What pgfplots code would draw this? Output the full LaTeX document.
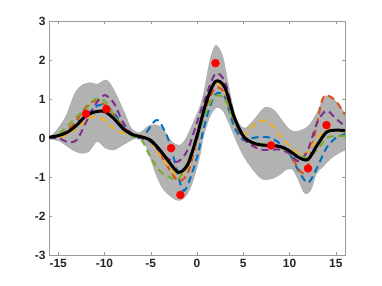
\documentclass[border=0pt]{standalone}
\usepackage{fontspec}
\setmainfont{Liberation Sans}
\usepackage{pgfplots}
\pgfplotsset{compat=1.18}
\usepgfplotslibrary{fillbetween}

\definecolor{bandgray}{rgb}{0.70,0.70,0.70}
\definecolor{mblue}{rgb}{0,0.447,0.741}
\definecolor{morange}{rgb}{0.85,0.325,0.098}
\definecolor{myellow}{rgb}{0.929,0.694,0.125}
\definecolor{mpurple}{rgb}{0.494,0.184,0.556}
\definecolor{mgreen}{rgb}{0.466,0.674,0.188}

\begin{document}
\begin{tikzpicture}
\path (0,0) rectangle (382bp,286bp);
\begin{axis}[
    at={(49bp,31bp)}, anchor=south west,
    scale only axis,
    width=296bp, height=234bp,
    xmin=-16, xmax=16, ymin=-3, ymax=3,
    xtick={-15,-10,...,15}, ytick={-3,-2,...,3},
    tick align=inside,
    major tick length=3bp,
    axis line style={black!40},
    every tick/.style={black!40},
    /pgf/number format/assume math mode=true,
    tick label style={font=\fontsize{12}{14}\selectfont\bfseries, text=black!85},
    xticklabel style={yshift=-1bp},
    sample/.style={line width=2pt, dash pattern=on 7pt off 4.5pt, smooth},
]
% confidence band
\addplot[name path=up, draw=black!35, line width=0.3pt, smooth] coordinates {
(-16,0.03) (-15.3,0.16) (-14.2,0.55) (-13.2,1.15) (-12.4,1.36) (-11.5,1.42)
(-10.8,1.38) (-9.9,1.49) (-9.4,1.40) (-8.7,1.10) (-7.8,0.63) (-7.1,0.25)
(-6.2,0.14) (-5.1,0.33) (-4.1,0.31) (-3.4,0.14) (-2.9,-0.05) (-2.3,-0.16)
(-1.8,-0.18) (-1.3,-0.05) (-0.6,0.29) (0.3,0.8) (0.8,1.25) (1.4,2.0)
(2.05,2.38) (2.8,2.08) (3.5,1.23) (4.1,0.6) (4.6,0.35) (5.2,0.25)
(6.1,0.45) (7.3,0.78) (8.3,0.72) (9.2,0.45) (10.0,0.22) (10.8,0.17)
(12.0,0.3) (12.9,0.62) (13.8,1.06) (14.6,1.03) (15.5,0.8) (16,0.63)};
\addplot[name path=lo, draw=black!35, line width=0.3pt, smooth] coordinates {
(-16,-0.03) (-15,-0.07) (-14.4,-0.15) (-13.5,-0.3) (-12.6,-0.39) (-11.7,-0.35)
(-10.8,-0.09) (-9.9,-0.26) (-9.0,-0.31) (-8.0,-0.18) (-6.6,0.0) (-5.8,-0.06)
(-5.1,-0.48) (-4.35,-0.99) (-3.6,-1.33) (-2.55,-1.55) (-1.85,-1.6) (-1.1,-1.46)
(-0.4,-1.08) (0.3,-0.48) (0.7,0.03) (1.4,0.55) (2.1,0.78) (2.8,0.7)
(3.5,0.35) (4.2,-0.05) (5.0,-0.45) (6.0,-0.8) (7.0,-1.05) (8.0,-1.05)
(8.9,-0.95) (9.6,-0.82) (10.3,-0.8) (10.9,-1.05) (11.5,-1.38) (11.9,-1.43)
(12.4,-1.29) (12.9,-0.92) (13.6,-0.74) (14.7,-0.48) (16,-0.31)};
\addplot[bandgray] fill between[of=up and lo];
% posterior samples
\addplot[mblue, sample] coordinates {
(-16,0.0) (-15,0.05) (-14,0.2) (-13,0.4) (-12,0.55) (-11,0.8) (-10,0.85) (-9,0.65)
(-8,0.3) (-7,0.05) (-6,0.0) (-5,0.3) (-4.5,0.45) (-4,0.4) (-3,-0.1) (-2,-1.0)
(-1.5,-1.35) (-1,-1.2) (0,-0.5) (1,0.5) (2,1.12) (3,1.05) (4,0.3) (5,-0.05)
(6,0.0) (7,0.03) (8,0.0) (9,-0.15) (10,-0.4) (11,-0.85) (12,-1.15) (13,-0.75)
(14,-0.25) (15,0.0) (16,0.1)};
\addplot[morange, sample] coordinates {
(-16,0.0) (-15,0.05) (-14,0.2) (-13,0.45) (-12,0.8) (-11,0.95) (-10,0.85) (-9,0.6)
(-8,0.3) (-7,0.1) (-6,0.0) (-5,-0.05) (-4,-0.4) (-3,-0.8) (-2,-1.1) (-1,-0.9)
(0,-0.05) (1,0.8) (2,1.28) (3,1.15) (4,0.45) (5,0.0) (6,-0.15) (7,-0.2)
(8,-0.2) (9,-0.25) (10,-0.4) (11,-0.8) (11.5,-0.9) (12,-0.7) (13,0.4) (13.5,0.95)
(14,1.1) (15,0.95) (16,0.6)};
\addplot[myellow, sample] coordinates {
(-16,0.0) (-15,0.0) (-14,0.1) (-13,0.25) (-12,0.45) (-11,0.55) (-10,0.45) (-9,0.25)
(-8,0.12) (-7,0.1) (-6,0.05) (-5,-0.1) (-4,-0.45) (-3,-0.75) (-2,-1.0) (-1,-0.75)
(0,0.0) (1,0.95) (2,1.4) (3,1.2) (4,0.5) (5,0.1) (6,0.3) (7,0.45)
(8,0.35) (9,0.05) (10,-0.2) (11,-0.4) (12,-0.35) (13,0.0) (14,0.2) (15,0.2) (16,0.15)};
\addplot[mpurple, sample] coordinates {
(-16,0.0) (-15,0.0) (-14,-0.1) (-13,-0.05) (-12,0.4) (-11,0.85) (-10,1.1) (-9,0.9)
(-8,0.4) (-7,0.1) (-6,0.0) (-5,-0.1) (-4,-0.35) (-3,-0.55) (-2,-0.6) (-1,-0.3)
(0,0.4) (1,1.1) (2,1.65) (3,1.45) (4,0.6) (5,0.0) (6,-0.2) (7,-0.3)
(8,-0.3) (9,-0.3) (10,-0.4) (11,-0.6) (12,-0.3) (13,0.4) (14,0.7) (15,0.5) (16,0.3)};
\addplot[mgreen, sample] coordinates {
(-16,0.0) (-15,0.1) (-14,0.3) (-13,0.55) (-12,0.75) (-11,1.0) (-10,0.95) (-9,0.6)
(-8,0.25) (-7,0.05) (-6,-0.05) (-5,-0.5) (-4,-0.85) (-3,-1.0) (-2,-1.05) (-1,-0.6)
(0,0.0) (1,0.7) (2,1.08) (3,1.0) (4,0.45) (5,0.05) (6,-0.1) (7,-0.15)
(8,-0.2) (9,-0.25) (10,-0.35) (11,-0.45) (12,-0.5) (13,-0.3) (14,0.0) (15,0.05) (16,0.05)};
% posterior mean
\addplot[black, line width=3pt, smooth] coordinates {
(-16,0.02) (-15,0.06) (-14,0.15) (-13,0.33) (-12,0.57) (-11,0.67) (-10,0.68) (-9,0.50)
(-8,0.24) (-7,0.09) (-6,0.03) (-5,-0.06) (-4,-0.31) (-3,-0.62) (-2,-0.88) (-1,-0.68)
(0,0.05) (1,0.92) (2,1.45) (3,1.30) (4,0.55) (5,0.05) (6,-0.12) (7,-0.18)
(8,-0.19) (9,-0.22) (10,-0.33) (11,-0.50) (12,-0.55) (13,-0.18) (14,0.15) (15,0.20) (16,0.19)};
% observations
\addplot[only marks, mark=*, mark size=4pt, red, mark options={draw=red, fill=red}] coordinates {
(-12,0.62) (-9.8,0.74) (-2.8,-0.26) (-1.8,-1.46) (2,1.92) (8,-0.19) (12,-0.78) (14,0.33)};
\end{axis}
\end{tikzpicture}
\end{document}
